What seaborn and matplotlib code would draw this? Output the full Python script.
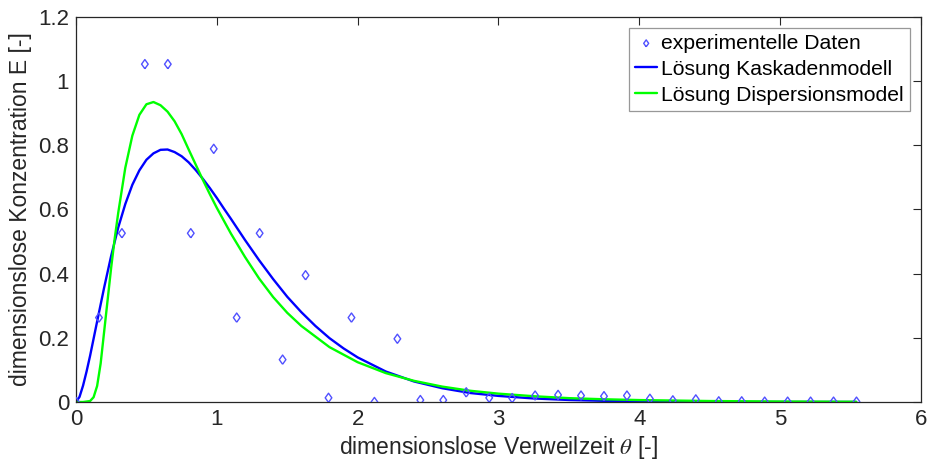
import matplotlib
matplotlib.use("Agg")
import matplotlib.pyplot as plt
import seaborn as sns
import pandas as pd

# ---- data ----
theta_data = [0.0, 0.163, 0.326, 0.489, 0.652, 0.815, 0.978, 1.141, 1.304, 1.467,
              1.630, 1.793, 1.956, 2.119, 2.282, 2.445, 2.608, 2.771, 2.934, 3.097,
              3.260, 3.423, 3.586, 3.749, 3.912, 4.075, 4.238, 4.401, 4.564, 4.727,
              4.890, 5.053, 5.216, 5.379, 5.542]
E_data = [0.0, 0.263, 0.526, 1.053, 1.053, 0.526, 0.789, 0.263, 0.526, 0.132,
          0.395, 0.013, 0.263, 0.0, 0.197, 0.006, 0.006, 0.030, 0.013, 0.012,
          0.020, 0.022, 0.020, 0.018, 0.020, 0.010, 0.005, 0.008, 0.002, 0.002,
          0.001, 0.001, 0.001, 0.001, 0.001]

theta_kask = [0.0, 0.025, 0.05, 0.075, 0.1, 0.15, 0.2, 0.25, 0.3, 0.35, 0.4, 0.45, 0.5,
              0.55, 0.6, 0.65, 0.7, 0.75, 0.8, 0.85, 0.9, 0.95, 1.0, 1.05, 1.1, 1.15,
              1.2, 1.3, 1.4, 1.5, 1.6, 1.7, 1.8, 1.9, 2.0, 2.2, 2.4, 2.6, 2.8, 3.0, 3.25,
              3.5, 3.75, 4.0, 4.5, 5.0, 5.54]
E_kask = [0.0, 0.016, 0.051, 0.095, 0.144, 0.251, 0.357, 0.456, 0.544, 0.617, 0.677,
          0.722, 0.755, 0.775, 0.786, 0.787, 0.779, 0.766, 0.747, 0.723, 0.696, 0.667,
          0.636, 0.603, 0.571, 0.538, 0.505, 0.442, 0.383, 0.328, 0.280, 0.237, 0.199,
          0.167, 0.139, 0.095, 0.064, 0.043, 0.028, 0.019, 0.011, 0.0063, 0.0036,
          0.0020, 0.0006, 0.0002, 0.0001]

theta_disp = [0.0, 0.05, 0.1, 0.125, 0.15, 0.175, 0.2, 0.225, 0.25, 0.275, 0.3, 0.35,
              0.4, 0.45, 0.5, 0.55, 0.6, 0.65, 0.7, 0.75, 0.8, 0.85, 0.9, 0.95, 1.0,
              1.1, 1.2, 1.3, 1.4, 1.5, 1.6, 1.8, 2.0, 2.2, 2.4, 2.6, 2.8, 3.0, 3.25,
              3.5, 3.75, 4.0, 4.5, 5.0, 5.54]
E_disp = [0.0, 0.0, 0.003, 0.015, 0.05, 0.12, 0.22, 0.32, 0.42, 0.51, 0.59, 0.73,
          0.83, 0.895, 0.928, 0.935, 0.925, 0.905, 0.875, 0.835, 0.787, 0.74, 0.693,
          0.648, 0.605, 0.525, 0.452, 0.385, 0.327, 0.278, 0.237, 0.171, 0.124, 0.090,
          0.066, 0.048, 0.035, 0.026, 0.018, 0.012, 0.0085, 0.006, 0.003, 0.0015,
          0.0007]

labels = ["experimentelle Daten", "Lösung Kaskadenmodell", "Lösung Dispersionsmodel"]
x_ticks = [0, 1, 2, 3, 4, 5, 6]
y_ticks = [0, 0.2, 0.4, 0.6, 0.8, 1.0, 1.2]
y_ticklabels = ["0", "0.2", "0.4", "0.6", "0.8", "1", "1.2"]

# ---- styling ----
sns.set_theme(style="white")
plt.rcParams["font.family"] = ["Liberation Sans", "DejaVu Sans"]
plt.rcParams["mathtext.fontset"] = "stix"
text_col = "#262626"

fig = plt.figure(figsize=(9.32, 4.67), dpi=100)
ax = fig.add_axes([76 / 932, 1 - 402 / 467, (921 - 76) / 932, (402 - 17) / 467])

df_data = pd.DataFrame({"theta": theta_data, "E": E_data})
df_kask = pd.DataFrame({"theta": theta_kask, "E": E_kask})
df_disp = pd.DataFrame({"theta": theta_disp, "E": E_disp})

diamond = [(0, -1), (0.72, 0), (0, 1), (-0.72, 0), (0, -1)]
sns.scatterplot(data=df_data, x="theta", y="E", ax=ax, marker=diamond, s=44,
                facecolor="none", edgecolor="#5050ff", linewidth=1.0,
                label=labels[0], zorder=3)
sns.lineplot(data=df_kask, x="theta", y="E", ax=ax, color="#0000ff", linewidth=1.7,
             label=labels[1], estimator=None, sort=False, zorder=2)
sns.lineplot(data=df_disp, x="theta", y="E", ax=ax, color="#00ff00", linewidth=1.7,
             label=labels[2], estimator=None, sort=False, zorder=2)

ax.set_xlim(0, 6)
ax.set_ylim(0, 1.2)
ax.set_xticks(x_ticks)
ax.set_xticklabels([str(t) for t in x_ticks])
ax.set_yticks(y_ticks)
ax.set_yticklabels(y_ticklabels)

for s in ax.spines.values():
    s.set_visible(True)
    s.set_color(text_col)
    s.set_linewidth(0.9)

ax.tick_params(axis="both", which="both", direction="in", length=6, width=0.8,
               colors=text_col, labelsize=16, top=True, right=True,
               labeltop=False, labelright=False, pad=5)

ax.set_xlabel("dimensionslose Verweilzeit $\\theta$ [-]", fontsize=16.5, color=text_col,
              labelpad=3)
ax.set_ylabel("dimensionslose Konzentration E [-]", fontsize=16.5, color=text_col,
              labelpad=4)

leg = ax.legend(loc="upper right", fontsize=15.2, frameon=True, fancybox=False,
                edgecolor="#7f7f7f", handlelength=1.05, handletextpad=0.2,
                borderpad=0.3, labelspacing=0.33, borderaxespad=0.5,
                markerscale=0.75)
leg.get_frame().set_linewidth(0.9)
for t in leg.get_texts():
    t.set_color("black")

fig.savefig("out.png", dpi=100)
